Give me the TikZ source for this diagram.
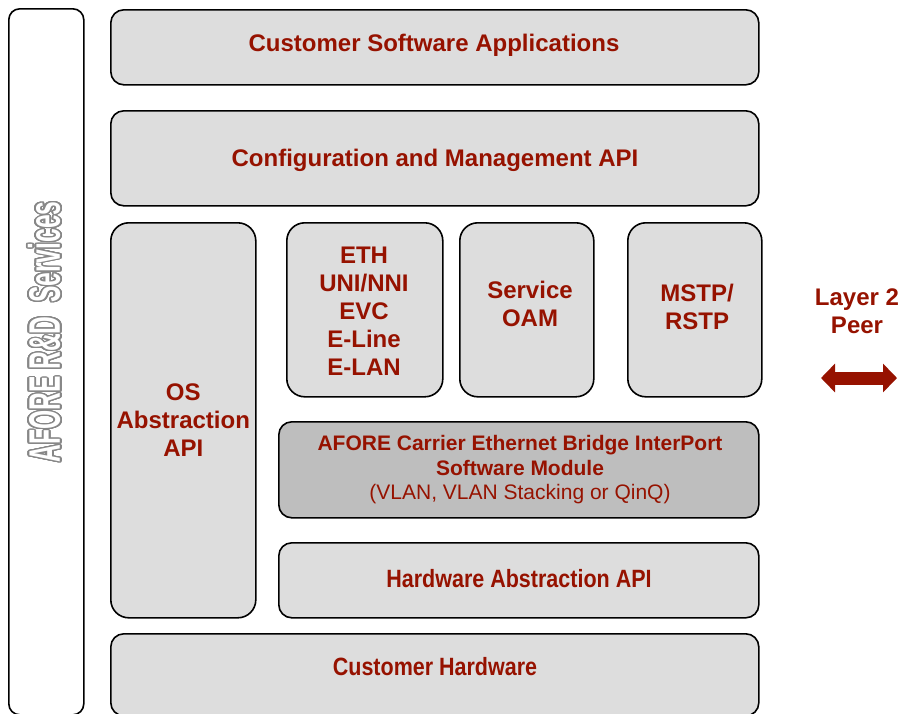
\documentclass[tikz,border=0pt]{standalone}
\usepackage{fontspec}
\setmainfont{Liberation Sans}
\usepackage{graphicx}
\usepackage[copies]{contour}
\usetikzlibrary{arrows.meta}
\definecolor{txtred}{RGB}{150,18,0}
\definecolor{boxfill}{RGB}{221,221,221}
\definecolor{bridgefill}{RGB}{190,190,190}
\definecolor{outlinegray}{RGB}{135,135,135}
\contourlength{1.5pt}
\contournumber{32}
\tikzset{
  box/.style={draw=black, line width=1.6pt, rounded corners=13pt, fill=boxfill,
    anchor=north west, inner sep=0pt, align=center, text=txtred,
    font=\bfseries\fontsize{24}{28}\selectfont},
  sqbox/.style={box, rounded corners=18pt},
  plainbox/.style={box, fill=none, rounded corners=11pt},
  lbl/.style={text=txtred, align=center, inner sep=0pt,
    font=\bfseries\fontsize{24}{28}\selectfont},
}
\begin{document}
\begin{tikzpicture}[x=1pt,y=-1pt]
\useasboundingbox (0,0) rectangle (901,713);
\clip (0,0) rectangle (901,713);
% left services column
\node[plainbox, minimum width=75pt, minimum height=706pt] (svc) at (8,8) {};
\node[rotate=90, inner sep=0pt] (svctext) at (45,332)
  {\resizebox{261pt}{32pt}{\fontsize{37}{40}\selectfont\bfseries\contour{outlinegray}{\textcolor{white}{AFORE R\&D\ \ Services}}}};
% top layers
\node[box, minimum width=648pt, minimum height=75pt] (csa) at (110,9) {};
\node[lbl] (csatext) at (434,45) {Customer Software Applications};
\node[box, minimum width=648pt, minimum height=95pt] (cfg) at (110,110) {};
\node[lbl] (cfgtext) at (435,160) {Configuration and Management API};
% OS abstraction
\node[sqbox, minimum width=145pt, minimum height=395pt] (os) at (110,222) {OS\\Abstraction\\API};
% protocol boxes
\node[sqbox, minimum width=156pt, minimum height=174pt] (eth) at (286,222) {};
\node[lbl] (ethtext) at (364,311) {ETH\\UNI/NNI\\EVC\\E-Line\\E-LAN};
\node[sqbox, minimum width=134pt, minimum height=174pt] (oam) at (459,222) {};
\node[lbl] (oamtext) at (530,304) {Service\\OAM};
\node[sqbox, minimum width=134pt, minimum height=174pt] (mstp) at (627,222) {};
\node[lbl] (mstptext) at (697,307) {MSTP/\\RSTP};
% bridge module
\node[box, fill=bridgefill, minimum width=480pt, minimum height=96pt,
  font=\fontsize{21}{24.5}\selectfont] (bridge) at (278,421) {};
\node[lbl, font=\fontsize{21}{24.5}\selectfont] (bridgetext) at (520,470)
  {\textbf{AFORE Carrier Ethernet Bridge InterPort}\\\textbf{Software Module}\\(VLAN, VLAN Stacking or QinQ)};
% hardware abstraction
\node[box, minimum width=480pt, minimum height=75pt] (hwa) at (278,542) {};
\node[lbl] (hwatext) at (519,579) {\scalebox{0.86}[1]{\fontsize{25}{28}\selectfont Hardware Abstraction API}};
% customer hardware
\node[box, minimum width=648pt, minimum height=82pt] (chw) at (110,633) {};
\node[lbl] (chwtext) at (435,667) {\scalebox{0.86}[1]{\fontsize{25}{28}\selectfont Customer Hardware}};
% layer 2 peer
\node[lbl] (peer) at (857,311) {Layer 2\\Peer};
\coordinate (arrL) at (821,378);
\coordinate (arrR) at (897,378);
\draw[draw=txtred, line width=13pt,
  {Triangle[width=28pt,length=14pt]}-{Triangle[width=28pt,length=14pt]}] (arrL) -- (arrR);
\end{tikzpicture}
\end{document}
